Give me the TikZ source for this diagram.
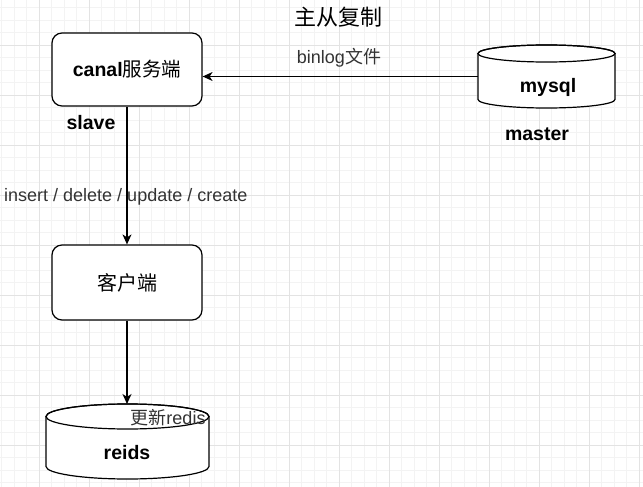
\documentclass[tikz,border=0pt]{standalone}
\usepackage{fontspec}
\setmainfont{Liberation Sans}
\newfontfamily\cjk{Noto Sans CJK SC}
\usetikzlibrary{arrows.meta,calc}
\definecolor{minorgrid}{HTML}{F3F3F3}
\definecolor{majorgrid}{HTML}{E3E3E3}
\definecolor{labelgray}{HTML}{333333}
\begin{document}
\begin{tikzpicture}[x=1pt,y=-1pt,
  minorline/.style={draw=minorgrid, line width=0.8pt},
  majorline/.style={draw=majorgrid, line width=0.9pt},
  box/.style={draw, line width=1.2pt, rounded corners=10pt, minimum width=150pt, fill=white, inner sep=0pt},
  holder/.style={inner sep=0pt, outer sep=0pt},
  cyl/.style={draw, line width=1.2pt, fill=white},
  arr/.style={line width=1.2pt, -{Stealth[length=10pt, width=9pt, inset=3pt]}},
  bigbold/.style={font=\fontsize{19.5}{21}\selectfont\bfseries},
  plain/.style={font=\fontsize{18}{20}\selectfont, text=labelgray, inner sep=0pt}]
\useasboundingbox (0,0) rectangle (643,487);
\fill[white] (0,0) rectangle (643,487);
% grid
\foreach \i in {0,...,51} \draw[minorline] ({1.8+12.5*\i},0) -- ({1.8+12.5*\i},487);
\foreach \j in {0,...,38} \draw[minorline] (0,{7.8+12.5*\j}) -- (643,{7.8+12.5*\j});
\foreach \i in {0,...,12} \draw[majorline] ({39.3+50*\i},0) -- ({39.3+50*\i},487);
\foreach \j in {0,...,8} \draw[majorline] (0,{45.3+50*\j}) -- (643,{45.3+50*\j});

% title
\node[font=\fontsize{22}{24}\selectfont\cjk, inner sep=0pt] (title) at (338,17) {主从复制};

% boxes
\node[box, minimum height=73pt, bigbold] (canal) at (127,69.5) {canal{\cjk\mdseries 服务端}};
\node[box, minimum height=75pt, font=\fontsize{20}{22}\selectfont\cjk] (client) at (127,282.5) {客户端};

% cylinder holders
\node[holder, minimum width=137pt, minimum height=63pt] (mysql) at (546.5,76.5) {};
\node[holder, minimum width=163pt, minimum height=75pt] (redis) at (127.5,441.5) {};

% mysql cylinder
\path[cyl] ($(mysql.north west)+(0,8.5)$) -- ($(mysql.south west)+(0,-8.5)$)
  arc[start angle=180, end angle=360, x radius=68.5pt, y radius=8.5pt]
  -- ($(mysql.north east)+(0,8.5)$) arc[start angle=0, end angle=180, x radius=68.5pt, y radius=8.5pt] -- cycle;
\draw[line width=1.2pt] ($(mysql.north)+(0,8.5)$) ellipse[x radius=68.5pt, y radius=8.5pt];

% redis cylinder
\path[cyl] ($(redis.north west)+(0,12.5)$) -- ($(redis.south west)+(0,-12.5)$)
  arc[start angle=180, end angle=360, x radius=81.5pt, y radius=12.5pt]
  -- ($(redis.north east)+(0,12.5)$) arc[start angle=0, end angle=180, x radius=81.5pt, y radius=12.5pt] -- cycle;
\draw[line width=1.2pt] ($(redis.north)+(0,12.5)$) ellipse[x radius=81.5pt, y radius=12.5pt];

\node[bigbold, inner sep=0pt] (mysqltxt) at (548,87) {mysql};
\node[bigbold, inner sep=0pt] (reidstxt) at (127,453) {reids};

% labels
\node[bigbold, inner sep=0pt] (slave) at (91,123) {slave};
\node[bigbold, inner sep=0pt] (master) at (537,134) {master};

% connectors
\draw[arr] (mysql.west) -- (canal.east |- mysql.west);
\draw[arr] (canal.south) -- (client.north);
\draw[arr] (client.south) -- (client.south |- redis.north);

\node[plain] (binlog) at (339,58) {binlog{\cjk 文件}};
\node[plain, anchor=west] (ops) at (4,197) {insert / delete / update / create};
\node[plain] (upd) at (168,418) {{\cjk 更新}redis};
\end{tikzpicture}
\end{document}
